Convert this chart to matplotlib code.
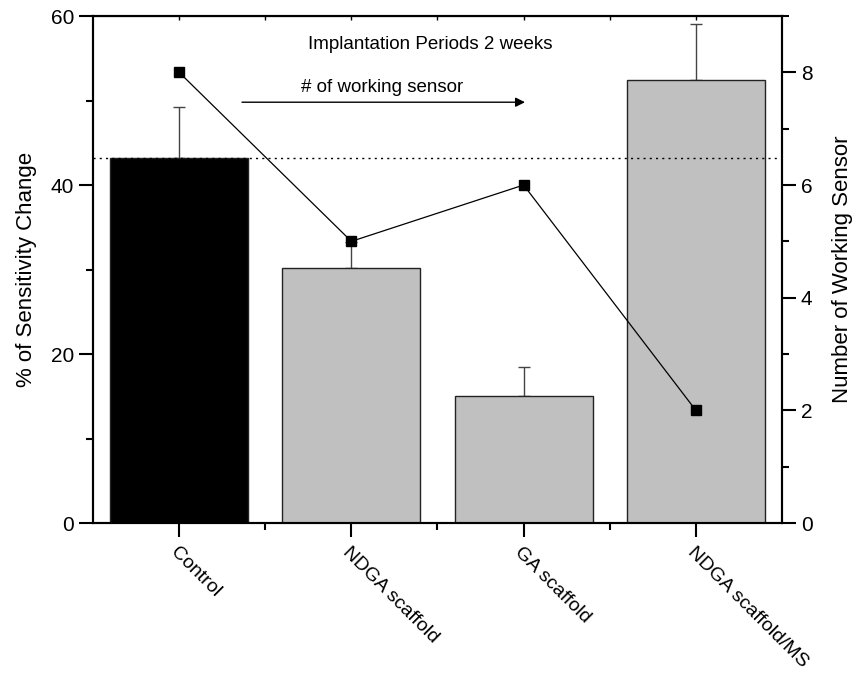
import matplotlib.pyplot as plt
from matplotlib.ticker import MultipleLocator

plt.rcParams['font.family'] = ['Liberation Sans', 'DejaVu Sans']

# data
groups = ["Control", "NDGA scaffold", "GA scaffold", "NDGA scaffold/MS"]
sens_change = [43.2, 30.2, 15.0, 52.4]      # % of sensitivity change
sens_err = [6.0, 3.0, 3.5, 6.6]             # upper error only
working = [8, 5, 6, 2]                      # number of working sensors
bar_colors = ["black", "#c0c0c0", "#c0c0c0", "#c0c0c0"]
control_level = 43.2

fig = plt.figure(figsize=(8.63, 6.76), dpi=100)
ax = fig.add_axes([0.1078, 0.2263, 0.7983, 0.75])
x = list(range(1, len(groups) + 1))

ax.bar(x, sens_change, width=0.8, color=bar_colors, edgecolor="#222222",
       linewidth=1.0, zorder=2)
ax.errorbar(x, sens_change, yerr=[[0] * len(x), sens_err], fmt="none",
            ecolor="#444444", elinewidth=1.0, capsize=4, capthick=1.0, zorder=1)
ax.axhline(control_level, color="black", linestyle=(0, (1.5, 3)), linewidth=1.0,
           zorder=3)

ax.set_xlim(0.5, 4.5)
ax.set_ylim(0, 60)
ax.yaxis.set_major_locator(MultipleLocator(20))
ax.yaxis.set_minor_locator(MultipleLocator(10))
ax.set_xticks(x)
ax.set_xticks([1.5, 2.5, 3.5], minor=True)
ax.set_xticklabels(groups, rotation=-45, ha="left", va="top",
                   rotation_mode="anchor", fontsize=14)
ax.tick_params(axis="both", which="major", length=10, width=1.5, direction="out",
               labelsize=15)
ax.tick_params(axis="x", which="major", labelsize=14, pad=5)
ax.tick_params(axis="both", which="minor", length=5, width=1.5, direction="out")
ax.set_ylabel("% of Sensitivity Change", fontsize=16, labelpad=10)
for s in ax.spines.values():
    s.set_linewidth(1.5)

top = ax.secondary_xaxis("top")
top.set_ticks([1, 1.5, 2, 2.5, 3, 3.5, 4])
top.tick_params(direction="in", length=3, width=1.0, labeltop=False)

ax2 = ax.twinx()
ax2.plot(x, working, color="black", linewidth=0.9, marker="s", markersize=7.5,
         markerfacecolor="black", markeredgecolor="black")
ax2.set_ylim(0, 9)
ax2.yaxis.set_major_locator(MultipleLocator(2))
ax2.yaxis.set_minor_locator(MultipleLocator(1))
ax2.tick_params(axis="y", which="major", length=10, width=1.5, labelsize=15)
ax2.tick_params(axis="y", which="minor", length=5, width=1.5)
ax2.set_ylabel("Number of Working Sensor", fontsize=16, labelpad=14)
for s in ax2.spines.values():
    s.set_linewidth(1.5)

ax.text(2.457, 56.6, "Implantation Periods 2 weeks", ha="center", va="center",
        fontsize=13.5)
ax.text(2.18, 51.5, "# of working sensor", ha="center", va="center", fontsize=13.5)
ax.annotate("", xy=(3.008, 49.8), xytext=(1.365, 49.8),
            arrowprops=dict(arrowstyle="-|>", color="black", lw=1.0,
                            mutation_scale=14, shrinkA=0, shrinkB=0))

fig.savefig("out.png", dpi=100)
